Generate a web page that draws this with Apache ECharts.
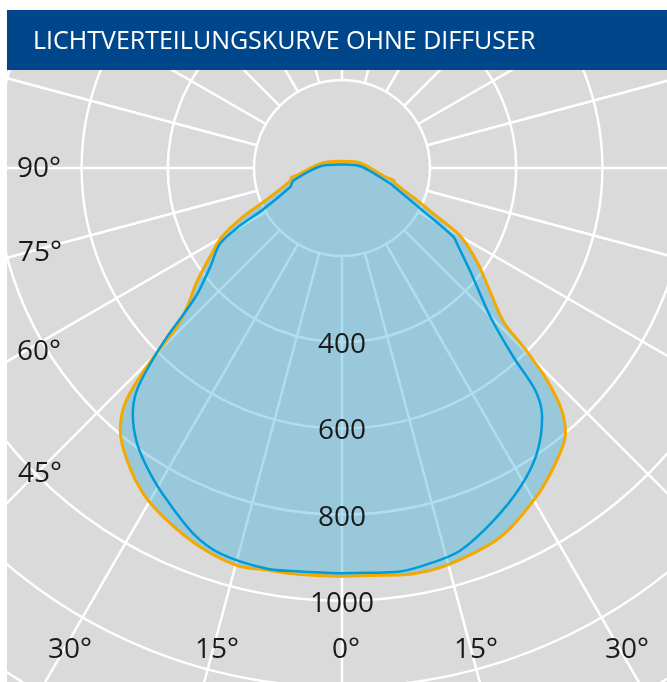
<!DOCTYPE html>
<html>
<head>
<meta charset="utf-8">
<script src="https://cdn.jsdelivr.net/npm/echarts@6/dist/echarts.min.js"></script>
<style>
  html, body { margin: 0; padding: 0; background: #ffffff; }
  #chart { width: 667px; height: 682px; }
</style>
</head>
<body>
<div id="chart"></div>
<script>
// ---- data (angle from nadir in degrees: left side negative, right side positive; value cd/klm) ----
const titleText = 'LICHTVERTEILUNGSKURVE OHNE DIFFUSER';

const orangeAngles = [-180, -166, -101.5, -80.8, -79.8, -78.3, -75.9, -67, -63.5, -60, -57.3, -52, -48.3, -46.1, -44.9, -43.6, -42.4, -40.2, -36.3, -31.4, -26.4, -20.5, -14.8, -10.6, -5.9, 0,
  5.8, 10, 15.3, 23.2, 30, 35.3, 40.1, 42.2, 44, 45.4, 46.4, 51.9, 55.1, 59.7, 61.4, 63.5, 66.7, 73.7, 76.6, 78.3, 105.3, 166, 180];
const orangeValues = [15.5, 16, 51, 106, 118, 121, 124, 193, 262, 324, 354, 427, 479, 532, 619, 701, 751, 797, 842, 885, 913, 939, 954, 949, 948, 947,
  950, 956, 952, 932, 890, 850, 805, 759, 685, 592, 518, 423, 383, 323, 286, 237, 190, 129, 123, 103, 44, 16, 15.5];

const blueAngles = [-180, -153, -94.5, -75.7, -72.7, -69.8, -62.1, -60.6, -58.2, -53.1, -49.2, -47.8, -46, -44.4, -42.7, -40.4, -36.6, -32.1, -27.8, -22.1, -17.5, -10.6, -5.9, 0,
  3.5, 8.2, 13.1, 17.2, 23.3, 29.2, 34.3, 38.8, 41, 42.2, 44.9, 50.5, 56.7, 58.3, 62.2, 70.5, 72.1, 95.3, 153, 180];
const blueValues = [8, 9, 50.5, 116, 122, 128, 210, 271, 333, 382, 440, 480, 565, 636, 702, 749, 797, 837, 871, 916, 938, 946, 941, 940,
  941, 946, 939, 929, 890, 848, 802, 741, 684, 592, 488, 391, 319, 304, 211, 127, 118, 43, 9, 8];

const radiusLabels = [400, 600, 800, 1000];
const leftAngleLabels = ['90°', '75°', '60°', '45°'];
const bottomAngleLabels = ['30°', '15°', '0°', '15°', '30°'];

// ---- layout ----
const CENTER = [342, 168];
const K = 0.431;               // px per cd
const R_MAX = 1600;
const R_INNER_VAL = 200;
const R_INNER_PX = 88;
const FONT = '"Open Sans", "Noto Sans", sans-serif';
const TEXT_COLOR = '#1a1a1a';

const chart = echarts.init(document.getElementById('chart'), null, { renderer: 'canvas' });

function pairs(angles, values) {
  return angles.map((a, i) => [values[i], a]);
}

const angleAxisBase = {
  type: 'value', min: -180, max: 180, startAngle: 90, clockwise: false,
  axisLine: { show: false }, axisTick: { show: false }, axisLabel: { show: false }
};

const leftLabelPos = [[17, 169], [18, 253], [17, 352], [18, 474]];
const bottomLabelPos = [[70, 650], [217, 650], [346, 650], [476, 650], [627, 650]];

const graphics = [
  { type: 'rect', z: 100, shape: { x: 0, y: 0, width: 667, height: 10 }, style: { fill: '#ffffff' } },
  { type: 'rect', z: 100, shape: { x: 0, y: 0, width: 7, height: 682 }, style: { fill: '#ffffff' } },
  { type: 'rect', z: 101, shape: { x: 7, y: 10, width: 660, height: 60 }, style: { fill: '#00468a' } },
  { type: 'text', z: 102, x: 33, y: 42,
    style: { text: titleText, fill: '#ffffff', fontSize: 25, fontFamily: FONT,
             align: 'left', verticalAlign: 'middle', textAlign: 'left', textVerticalAlign: 'middle' } }
];
leftAngleLabels.forEach((t, i) => {
  graphics.push({ type: 'text', z: 90, x: leftLabelPos[i][0], y: leftLabelPos[i][1],
    style: { text: t, fill: TEXT_COLOR, fontSize: 28, fontFamily: FONT,
             align: 'left', verticalAlign: 'middle', textAlign: 'left', textVerticalAlign: 'middle' } });
});
bottomAngleLabels.forEach((t, i) => {
  graphics.push({ type: 'text', z: 90, x: bottomLabelPos[i][0], y: bottomLabelPos[i][1],
    style: { text: t, fill: TEXT_COLOR, fontSize: 28, fontFamily: FONT,
             align: 'center', verticalAlign: 'middle', textAlign: 'center', textVerticalAlign: 'middle' } });
});

const option = {
  backgroundColor: '#dadada',
  animation: false,
  polar: [
    { center: CENTER, radius: [R_INNER_PX, R_INNER_PX + (R_MAX - R_INNER_VAL) * K] },
    { center: CENTER, radius: [0, R_MAX * K] }
  ],
  angleAxis: [
    Object.assign({}, angleAxisBase, { polarIndex: 0, interval: 15,
      splitLine: { show: true, lineStyle: { color: '#ffffff', width: 2.5 } } }),
    Object.assign({}, angleAxisBase, { polarIndex: 1, splitLine: { show: false } })
  ],
  radiusAxis: [
    { polarIndex: 0, type: 'value', min: R_INNER_VAL, max: R_MAX, interval: 200,
      axisLine: { show: false }, axisTick: { show: false }, axisLabel: { show: false },
      splitLine: { show: true, lineStyle: { color: '#ffffff', width: 2.5 } } },
    { polarIndex: 1, type: 'value', min: 0, max: R_MAX,
      axisLine: { show: false }, axisTick: { show: false }, axisLabel: { show: false },
      splitLine: { show: false } }
  ],
  graphic: graphics,
  series: [
    {
      type: 'line', coordinateSystem: 'polar', polarIndex: 1, name: 'outer',
      data: pairs(orangeAngles, orangeValues), symbol: 'none', smooth: 0.3,
      lineStyle: { color: '#f2a900', width: 3 },
      areaStyle: { color: 'rgba(55,173,218,0.4)', opacity: 1 },
      z: 3
    },
    {
      type: 'line', coordinateSystem: 'polar', polarIndex: 1, name: 'inner',
      data: pairs(blueAngles, blueValues), symbol: 'none', smooth: 0.3,
      lineStyle: { color: '#009bd9', width: 2.5 },
      z: 4
    },
    {
      type: 'scatter', coordinateSystem: 'polar', polarIndex: 0,
      data: radiusLabels.map(v => [v, 0]), symbolSize: 0,
      itemStyle: { color: TEXT_COLOR, opacity: 1 },
      label: { show: true, position: 'inside', offset: [0, 3], formatter: p => String(p.value[0]),
               color: TEXT_COLOR, fontSize: 28, fontFamily: FONT,
               textBorderWidth: 0, opacity: 1 },
      emphasis: { disabled: true },
      z: 6, silent: true
    }
  ]
};
chart.setOption(option);
</script>
</body>
</html>
